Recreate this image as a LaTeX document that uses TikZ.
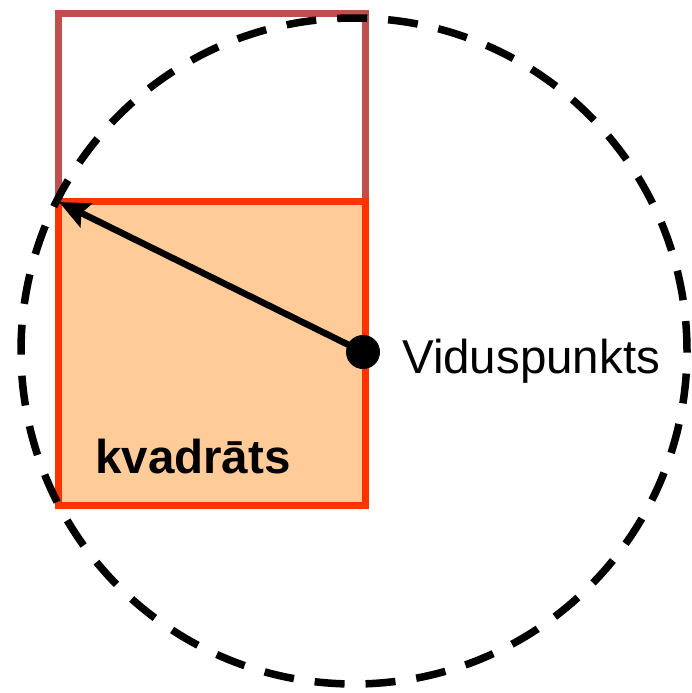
\documentclass[tikz,border=0pt]{standalone}
\usepackage{fontspec}
\setmainfont{Liberation Sans}
\usetikzlibrary{arrows.meta}
\definecolor{upperred}{HTML}{C0504D}
\definecolor{sqred}{HTML}{FF3300}
\definecolor{sqfill}{HTML}{FFCC99}
\tikzset{
  upperbox/.style={draw=upperred,line width=7pt},
  squarebox/.style={draw=sqred,fill=sqfill,line width=7pt},
  dashcircle/.style={draw=black,line width=7.5pt,dash pattern=on 30pt off 21pt},
  centerdot/.style={circle,fill=black,inner sep=0pt,minimum size=34pt},
  radiusarrow/.style={draw=black,line width=6.5pt,-{Stealth[length=30pt,width=26pt,inset=5pt]}},
  lbl/.style={font=\fontsize{47.5}{50}\selectfont,inner sep=0pt,anchor=base west}
}
\begin{document}
\begin{tikzpicture}[x=1pt,y=-1pt]
\useasboundingbox (0,0) rectangle (691,693);
\draw[upperbox] (58,14) rectangle (365,201);
\draw[squarebox] (58,201) rectangle (365,505);
\draw[dashcircle] (354,351) circle (333pt);
\coordinate (corner) at (59,202);
\node[centerdot] (mid) at (363,352) {};
\draw[radiusarrow] (mid.center) -- (corner);
\node[lbl] (vid) at (402,373) {Viduspunkts};
\node[lbl,font=\fontsize{47.5}{50}\selectfont\bfseries] (kv) at (95,473) {kvadrāts};
\end{tikzpicture}
\end{document}
